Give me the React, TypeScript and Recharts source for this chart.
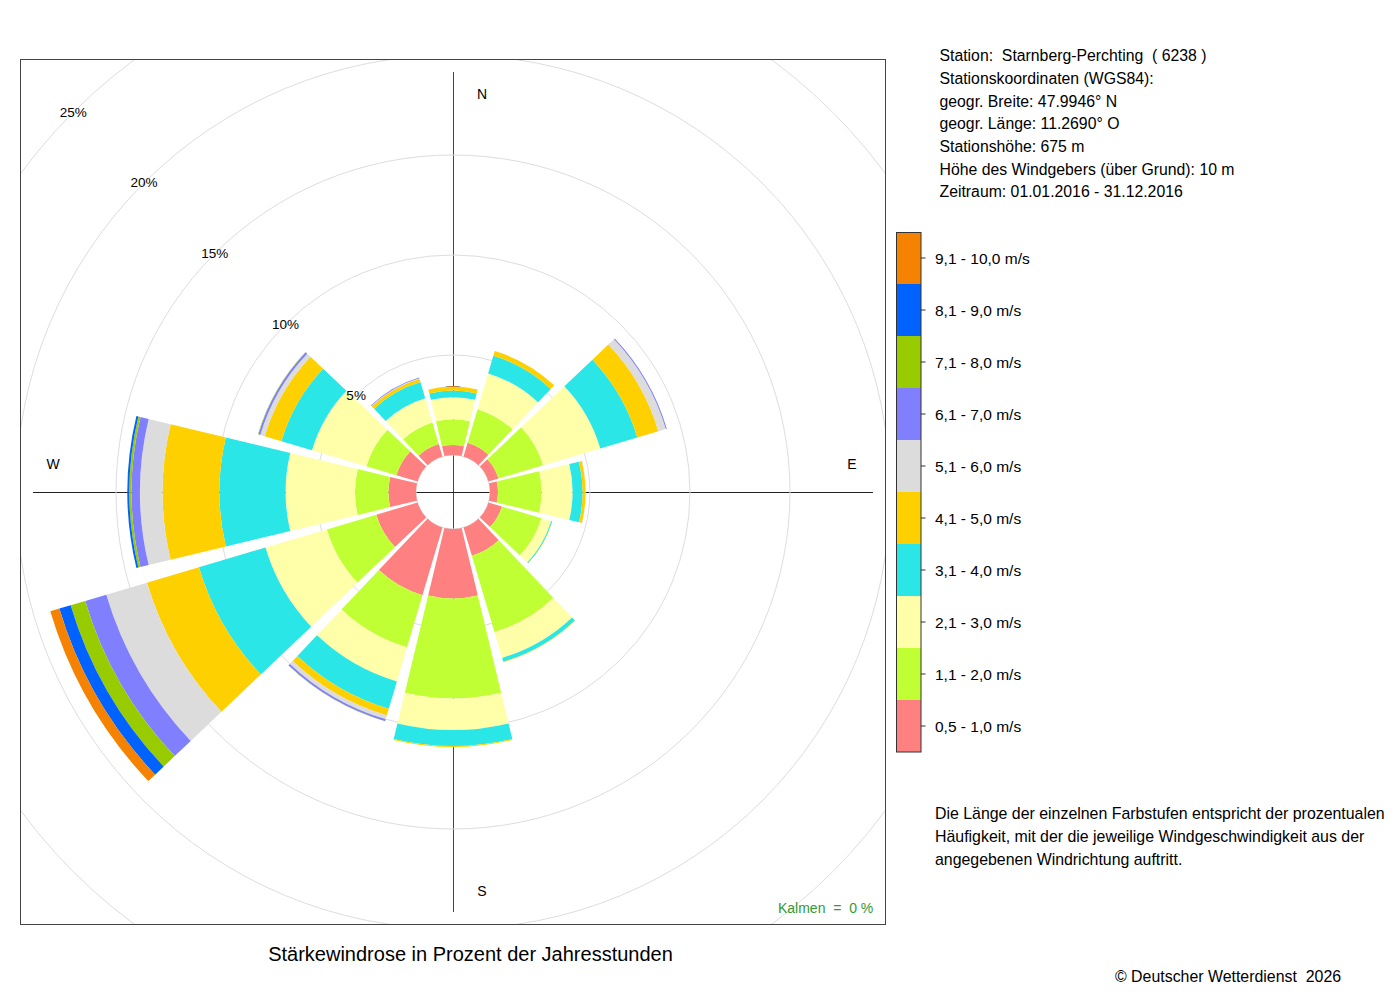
import React from 'react';
import { RadialBarChart, RadialBar, PolarAngleAxis, PolarRadiusAxis, PolarGrid } from 'recharts';

// 12 wind direction sectors (30° each), clockwise from north
const directions = ['N', '30°', '60°', 'O', '120°', '150°', 'S', '210°', '240°', 'W', '300°', '330°'];

// speed classes (bottom to top of the stack)
const speedLabels = [
  '0,5 - 1,0 m/s',
  '1,1 - 2,0 m/s',
  '2,1 - 3,0 m/s',
  '3,1 - 4,0 m/s',
  '4,1 - 5,0 m/s',
  '5,1 - 6,0 m/s',
  '6,1 - 7,0 m/s',
  '7,1 - 8,0 m/s',
  '8,1 - 9,0 m/s',
  '9,1 - 10,0 m/s',
];
const speedColors = ['#ff8080', '#c0ff33', '#ffffaa', '#2ae6e6', '#ffd000', '#dcdcdc', '#8080ff', '#99cc00', '#0062ff', '#f58200'];

// percentage of annual hours per direction for each speed class
const freq05to10 = [0.5, 0.72, 0.52, 0.4, 0.7, 1.47, 3.47, 3.53, 2.15, 1.38, 1.1, 0.65];
const freq11to20 = [1.29, 1.75, 2.33, 2.18, 2.06, 3.98, 5.0, 2.72, 2.58, 1.67, 1.57, 1.13];
const freq21to30 = [1.1, 1.86, 2.98, 1.55, 0.51, 1.35, 1.58, 1.78, 3.2, 3.47, 2.83, 1.26];
const freq31to40 = [0.33, 0.92, 1.93, 0.5, 0.05, 0.2, 0.8, 1.42, 3.47, 3.31, 1.6, 0.84];
const freq41to50 = [0.2, 0.25, 1.1, 0.15, 0.01, 0.03, 0.05, 0.35, 2.71, 2.84, 0.87, 0.17];
const freq51to60 = [0, 0, 0.39, 0.02, 0, 0, 0, 0.2, 2.12, 1.13, 0.23, 0.03];
const freq61to70 = [0, 0, 0.05, 0, 0, 0, 0, 0.1, 1.1, 0.42, 0.1, 0.04];
const freq71to80 = [0, 0, 0, 0, 0, 0, 0, 0.01, 0.76, 0.11, 0.02, 0];
const freq81to90 = [0, 0, 0, 0, 0, 0, 0, 0, 0.59, 0.1, 0, 0];
const freq91to100 = [0, 0, 0, 0, 0, 0, 0, 0, 0.47, 0, 0, 0];

const speedSeries = [freq05to10, freq11to20, freq21to30, freq31to40, freq41to50, freq51to60, freq61to70, freq71to80, freq81to90, freq91to100];

const radiusTicks = [0, 5, 10, 15, 20, 25];

const stationLines = [
  'Station:  Starnberg-Perchting  ( 6238 )',
  'Stationskoordinaten (WGS84):',
  'geogr. Breite: 47.9946° N',
  'geogr. Länge: 11.2690° O',
  'Stationshöhe: 675 m',
  'Höhe des Windgebers (über Grund): 10 m',
  'Zeitraum: 01.01.2016 - 31.12.2016',
];
const noteLines = [
  'Die Länge der einzelnen Farbstufen entspricht der prozentualen',
  'Häufigkeit, mit der die jeweilige Windgeschwindigkeit aus der',
  'angegebenen Windrichtung auftritt.',
];
const chartTitle = 'Stärkewindrose in Prozent der Jahresstunden';
const calmText = 'Kalmen  =  0 %';
const copyright = '© Deutscher Wetterdienst  2026';

const data = directions.map((dir, i) => {
  const row: Record<string, number | string> = { dir };
  speedSeries.forEach((s, k) => {
    row['v' + k] = s[i];
  });
  return row;
});

const FONT = '"Liberation Sans", Arial, Helvetica, sans-serif';

const RadiusTick = (props: any) => {
  const { x, y, payload } = props;
  if (!payload || payload.value === 0) return <g />;
  return (
    <text x={x} y={y} textAnchor="middle" dominantBaseline="central" fontSize={13.5} fill="#000" fontFamily={FONT}>
      {payload.value}%
    </text>
  );
};

// geometry (container coordinates; container sits at page 8,8)
const BOX_X = 12;
const BOX_Y = 51;
const BOX = 866;
const CX = BOX_X + BOX / 2;
const CY = BOX_Y + BOX / 2;
const AXIS_LEN = 420;

export default function App() {
  const legendTop = 224;
  const segH = 52;
  return (
    <div style={{ position: 'relative', width: 1384, height: 984, fontFamily: FONT }}>
      {/* background: compass cross */}
      <svg width={1384} height={984} style={{ position: 'absolute', left: 0, top: 0 }}>
        <line x1={CX + 0.5} y1={CY - AXIS_LEN} x2={CX + 0.5} y2={CY + AXIS_LEN} stroke="#444" strokeWidth={1} />
        <line x1={CX - AXIS_LEN} y1={CY + 0.5} x2={CX + AXIS_LEN} y2={CY + 0.5} stroke="#222" strokeWidth={1} />
      </svg>

      <div style={{ position: 'absolute', left: BOX_X, top: BOX_Y, width: BOX, height: BOX, overflow: 'hidden' }}>
        <RadialBarChart
          width={BOX}
          height={BOX}
          cx={BOX / 2}
          cy={BOX / 2}
          data={data}
          layout="centric"
          startAngle={75}
          endAngle={-285}
          innerRadius={37}
          outerRadius={537}
          barCategoryGap="5%"
          margin={{ top: 0, right: 0, bottom: 0, left: 0 }}
        >
          <PolarGrid gridType="circle" radialLines={false} stroke="#dddddd" />
          <PolarAngleAxis type="category" dataKey="dir" tick={false} axisLine={false} tickLine={false} />
          <PolarRadiusAxis
            type="number"
            domain={[0, 25]}
            ticks={radiusTicks}
            angle={135}
            axisLine={false}
            tickLine={false}
            tick={<RadiusTick />}
            orientation="middle"
          />
          {speedSeries.map((_, k) => (
            <RadialBar key={k} dataKey={'v' + k} stackId="s" fill={speedColors[k]} isAnimationActive={false} />
          ))}
        </RadialBarChart>
      </div>

      {/* foreground texts, frame and legend */}
      <svg width={1384} height={984} style={{ position: 'absolute', left: 0, top: 0, pointerEvents: 'none' }} fontFamily={FONT}>
        <rect x={BOX_X + 0.5} y={BOX_Y + 0.5} width={BOX - 1} height={BOX - 1} fill="none" stroke="#444" strokeWidth={1} />
        <text x={CX + 29} y={CY - 398} fontSize={14} textAnchor="middle" dominantBaseline="central">N</text>
        <text x={CX + 29} y={CY + 399} fontSize={14} textAnchor="middle" dominantBaseline="central">S</text>
        <text x={CX - 400} y={CY - 28} fontSize={14} textAnchor="middle" dominantBaseline="central">W</text>
        <text x={CX + 399} y={CY - 28} fontSize={14} textAnchor="middle" dominantBaseline="central">E</text>

        <text x={865.3} y={904.7} fontSize={14} textAnchor="end" fill="#339933" style={{ whiteSpace: 'pre' }}>{calmText}</text>
        <text x={462.5} y={952.5} fontSize={20} textAnchor="middle">{chartTitle}</text>
        <text x={1107} y={974} fontSize={15.9} style={{ whiteSpace: 'pre' }}>{copyright}</text>

        {stationLines.map((t, i) => (
          <text key={i} x={931.5} y={53.2 + i * 22.67} fontSize={15.8} style={{ whiteSpace: 'pre' }}>{t}</text>
        ))}
        {noteLines.map((t, i) => (
          <text key={i} x={927} y={811 + i * 23} fontSize={15.9}>{t}</text>
        ))}

        {speedLabels.map((lab, k) => {
          const idx = speedLabels.length - 1 - k;
          const y = legendTop + idx * segH;
          return (
            <g key={k}>
              <rect x={888} y={y} width={25} height={segH} fill={speedColors[k]} />
              <line x1={913} y1={y + segH / 2} x2={917.5} y2={y + segH / 2} stroke="#333" />
              <text x={927} y={y + segH / 2 + 6} fontSize={15.5}>{lab}</text>
            </g>
          );
        })}
        <rect x={888.5} y={legendTop + 0.5} width={24.5} height={segH * 10 - 0.5} fill="none" stroke="#333" />
      </svg>
    </div>
  );
}
